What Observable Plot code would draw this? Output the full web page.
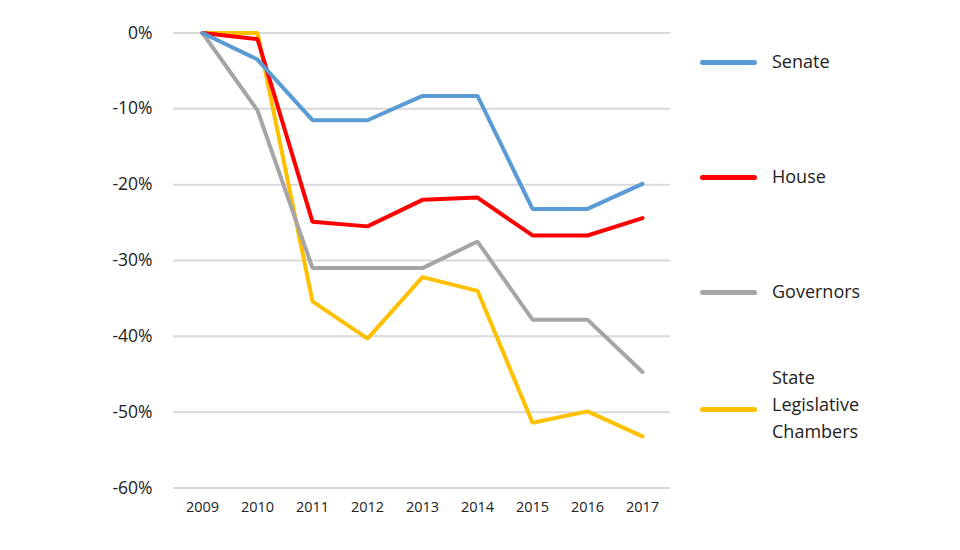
<!DOCTYPE html>
<html>
<head>
<meta charset="utf-8">
<script src="https://cdn.jsdelivr.net/npm/d3@7"></script>
<script src="https://cdn.jsdelivr.net/npm/@observablehq/plot@0.6"></script>
<style>
  html, body { margin: 0; padding: 0; background: #fff; }
  #wrap { position: relative; width: 960px; height: 550px; font-family: "Open Sans", sans-serif; }
  .leg { position: absolute; left: 700px; display: flex; align-items: center; }
  .leg .sw { width: 57px; height: 5px; border-radius: 3px; }
  .leg .lab { position: absolute; left: 72px; font-size: 18px; color: #222; line-height: 27px; white-space: nowrap; }
</style>
</head>
<body>
<div id="wrap"></div>
<script>
const years = ["2009","2010","2011","2012","2013","2014","2015","2016","2017"];
const seriesNames = ["Senate", "House", "Governors", "State Legislative Chambers"];
const senate    = [0, -3.5, -11.5, -11.5, -8.3, -8.3, -23.2, -23.2, -19.9];
const house     = [0, -0.8, -24.9, -25.5, -22.0, -21.7, -26.7, -26.7, -24.4];
const governors = [0, -10.2, -31.0, -31.0, -31.0, -27.5, -37.8, -37.8, -44.7];
const stateLeg  = [0, 0, -35.4, -40.3, -32.2, -34.0, -51.4, -49.9, -53.2];
const colors = ["#5b9bd5", "#ff0000", "#a5a5a5", "#ffc000"];
const yTicks = [0, -10, -20, -30, -40, -50, -60];

const allSeries = [senate, house, governors, stateLeg];
const data = [];
allSeries.forEach((vals, si) => {
  vals.forEach((v, i) => data.push({series: seriesNames[si], year: years[i], value: v}));
});

const chart = Plot.plot({
  width: 960,
  height: 550,
  marginLeft: 173,
  marginRight: 290,
  marginTop: 32.5,
  marginBottom: 62.5,
  style: { fontFamily: "Open Sans, sans-serif", color: "#222", background: "transparent" },
  x: { type: "point", domain: years, padding: 0.5, label: null },
  y: { domain: [-60, 0], label: null },
  color: { domain: seriesNames, range: colors },
  marks: [
    Plot.ruleY(yTicks, { stroke: "#d9d9d9", strokeWidth: 2 }),
    Plot.axisY({ ticks: yTicks, tickSize: 0, tickPadding: 21, tickFormat: d => d + "%", fontSize: 17.5, label: null }),
    Plot.axisX({ tickSize: 0, tickPadding: 14, fontSize: 14.5, label: null }),
    ...[...seriesNames].reverse().map(s =>
      Plot.line(data.filter(d => d.series === s), { x: "year", y: "value", stroke: "series", strokeWidth: 4, strokeLinejoin: "miter" })
    )
  ]
});
const wrap = document.getElementById("wrap");
wrap.appendChild(chart);

const legendY = [62.5, 177, 292, 409];
const labelOffset = [1.5, 1.5, 1.5, -2];
const labelLines = [["Senate"], ["House"], ["Governors"], ["State", "Legislative", "Chambers"]];
seriesNames.forEach((s, i) => {
  const item = document.createElement("div");
  item.className = "leg";
  item.style.top = (legendY[i] - 2.5) + "px";
  const sw = document.createElement("div");
  sw.className = "sw";
  sw.style.background = colors[i];
  item.appendChild(sw);
  const lab = document.createElement("div");
  lab.className = "lab";
  lab.innerHTML = labelLines[i].join("<br>");
  const h = labelLines[i].length * 27;
  lab.style.top = (labelOffset[i] - h / 2) + "px";
  item.appendChild(lab);
  wrap.appendChild(item);
});
chart.style.position = "absolute";
chart.style.left = "0";
chart.style.top = "0";
</script>
</body>
</html>
